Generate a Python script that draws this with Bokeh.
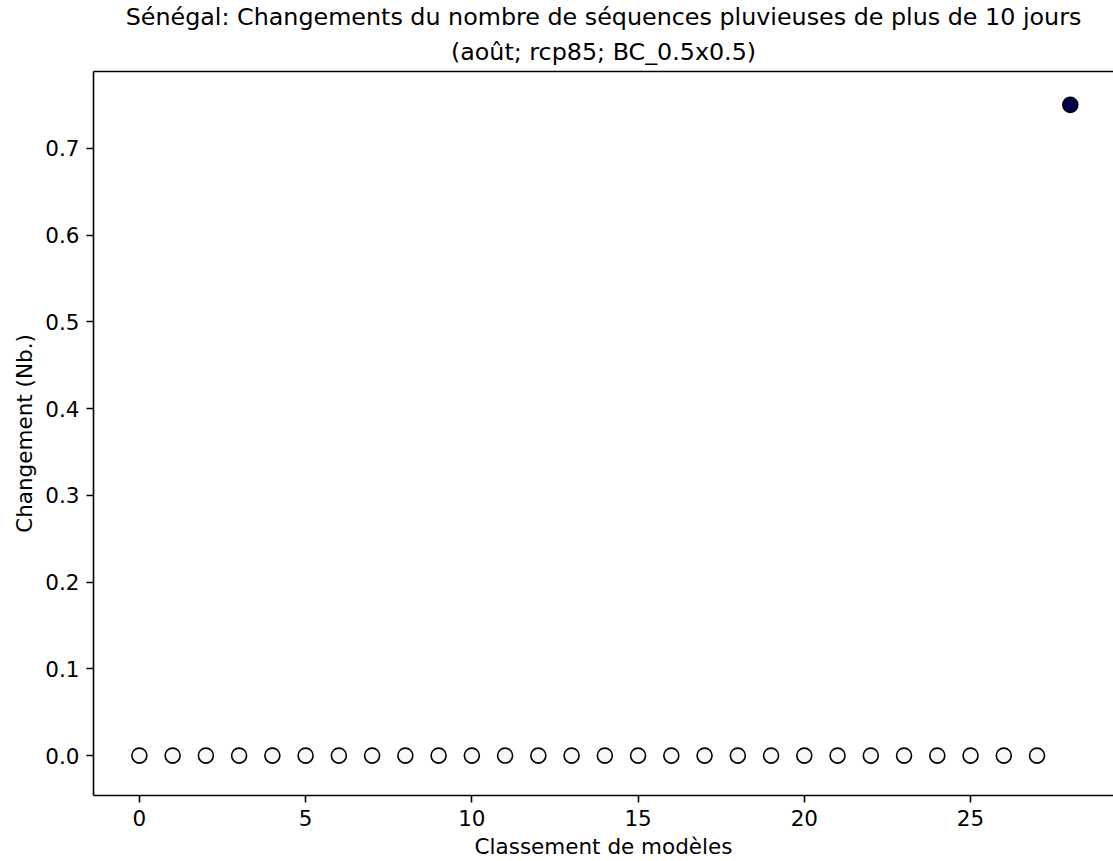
from bokeh.plotting import figure
from bokeh.models import ColumnDataSource, FixedTicker, LinearAxis, Title, Range1d, NumeralTickFormatter
from bokeh.embed import file_html
from bokeh.resources import INLINE

# Data
ranks = list(range(29))
changes = [0.0] * 28 + [0.75]
fill_colors = ["#f7f7fc"] * 28 + ["#00004f"]
x_ticks = [0, 5, 10, 15, 20, 25]
y_ticks = [0.0, 0.1, 0.2, 0.3, 0.4, 0.5, 0.6, 0.7]
title_line1 = "Sénégal: Changements du nombre de séquences pluvieuses de plus de 10 jours"
title_line2 = "(août; rcp85; BC_0.5x0.5)"
x_label = "Classement de modèles"
y_label = "Changement (Nb.)"

FONT = "DejaVu Sans"
FS = "21.5px"

src = ColumnDataSource(dict(x=ranks, y=changes, c=fill_colors))

p = figure(width=1113, height=861, output_backend="svg", toolbar_location=None,
           x_range=Range1d(-1.38, 29.3), y_range=Range1d(-0.046, 0.7885),
           x_axis_location=None, y_axis_location=None)
p.title = None
p.outline_line_color = None
p.grid.visible = False
p.min_border_left = 93
p.min_border_right = 0
p.min_border_top = 0
p.min_border_bottom = 0
p.background_fill_color = "white"
p.border_fill_color = "white"

def style_axis(ax, ticks, label):
    ax.ticker = FixedTicker(ticks=ticks)
    ax.axis_label = label
    ax.axis_label_text_font = FONT
    ax.axis_label_text_font_size = FS
    ax.axis_label_text_font_style = "normal"
    ax.axis_label_text_color = "black"
    ax.major_label_text_font = FONT
    ax.major_label_text_font_size = FS
    ax.major_label_text_color = "black"
    ax.axis_line_width = 1.6
    ax.axis_line_color = "black"
    ax.major_tick_line_width = 1.6
    ax.major_tick_line_color = "black"
    ax.major_tick_out = 7
    ax.major_tick_in = 0
    ax.minor_tick_line_color = None
    ax.major_label_standoff = 7
    ax.axis_label_standoff = 5

xaxis = LinearAxis()
style_axis(xaxis, x_ticks, x_label)
yaxis = LinearAxis()
style_axis(yaxis, y_ticks, y_label)
yaxis.formatter = NumeralTickFormatter(format="0.0")
p.add_layout(xaxis, "below")
p.add_layout(yaxis, "left")

top = LinearAxis()
top.axis_line_width = 1.6
top.axis_line_color = "black"
top.major_tick_line_color = None
top.minor_tick_line_color = None
top.major_label_text_font_size = "0px"
top.major_label_standoff = 0
top.ticker = FixedTicker(ticks=[])
p.add_layout(top, "above")

t2 = Title(text=title_line2, align="center", text_font=FONT, text_font_size="23.8px",
           text_font_style="normal", text_color="black", offset=4, standoff=11)
t1 = Title(text=title_line1, align="center", text_font=FONT, text_font_size="23.8px",
           text_font_style="normal", text_color="black", offset=4, standoff=0)
p.add_layout(t2, "above")
p.add_layout(t1, "above")

p.scatter("x", "y", source=src, size=15, marker="circle", fill_color="c",
          line_color="black", line_width=1.6)

open("out.html", "w").write(file_html(p, INLINE))
